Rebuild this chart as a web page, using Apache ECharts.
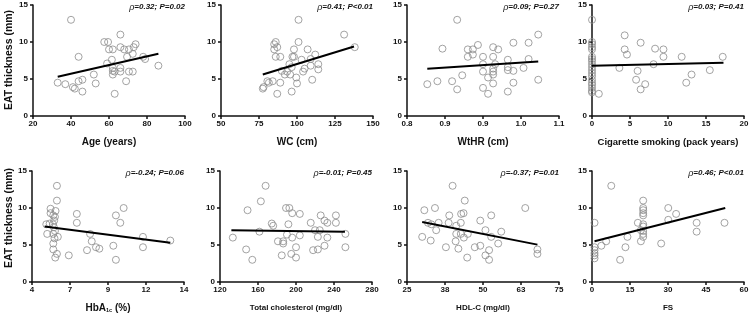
<!DOCTYPE html>
<html>
<head>
<meta charset="utf-8">
<script src="https://cdn.jsdelivr.net/npm/echarts@6/dist/echarts.min.js"></script>
<style>
  html, body { margin: 0; padding: 0; background: #fff; }
  #chart { width: 753px; height: 317px; }
</style>
</head>
<body>
<div id="chart"></div>
<script>
// EAT thickness (mm) against eight clinical variables
const ageX = [40, 66, 57.5, 59.5, 74, 66, 60, 62, 68, 70.5, 73, 72.5, 44, 69.5, 78, 79, 61.5, 59, 62, 62, 66, 63, 66, 70.5, 72.5, 62, 52, 86, 33, 37, 44, 46, 53, 69, 41, 42, 46, 63]
const ageY = [13, 11, 10, 10, 9.7, 9.3, 9, 9, 9, 9, 9.3, 8.4, 8, 8, 8, 7.7, 7.6, 7.1, 6.5, 6.1, 6.5, 6, 6, 6, 6, 5.6, 5.6, 6.8, 4.5, 4.3, 4.7, 4.9, 4.4, 4.7, 3.9, 3.7, 3.3, 3]
const ageFitX = [33, 86]
const ageFitY = [5.3, 8.4]
const ageTicks = ['20', '40', '60', '80', '100']

const wcX = [101, 131, 86, 85, 87, 85, 101, 98, 107, 138, 86, 89, 98, 97, 103, 112, 109, 114, 114, 95, 96.5, 105, 104, 109, 90, 93.5, 95.5, 92, 99.5, 84, 80.5, 81.5, 89, 100, 110, 77.5, 78, 96.5, 87]
const wcY = [13, 11, 10, 9.7, 9.3, 9, 10, 9, 9, 9.3, 8, 8, 8, 8, 7.6, 8.3, 7.7, 7, 6.3, 7, 6.6, 6.4, 6, 6.8, 6.1, 6, 5.6, 5.6, 5.2, 4.7, 4.7, 4.5, 4.5, 4.4, 4.9, 3.7, 3.9, 3.3, 3]
const wcFitX = [77.5, 137.5]
const wcFitY = [5.6, 9.4]
const wcTicks = ['50', '75', '100', '125', '150']

const whrX = [0.899, 1.059, 1.010, 1.040, 0.940, 0.870, 0.970, 0.980, 0.920, 0.930, 0.930, 0.920, 0.950, 0.970, 1.040, 0.999, 0.950, 0.974, 0.970, 0.970, 0.970, 0.999, 0.999, 1.010, 1.030, 0.950, 0.960, 0.909, 0.970, 1.010, 1.059, 0.840, 0.860, 0.889, 0.899, 0.950, 0.960, 0.999]
const whrY = [13, 11, 9.9, 9.9, 9.6, 9.1, 9.3, 9, 9, 9, 8.3, 8, 8, 8, 7.7, 7.6, 7, 7, 6.4, 6, 5.6, 6.6, 6.2, 6.1, 6.5, 6, 5.2, 5.5, 4.4, 4.5, 4.9, 4.3, 4.7, 4.7, 3.6, 3.8, 3, 3.3]
const whrFitX = [0.84, 1.059]
const whrFitY = [6.4, 7.35]
const whrTicks = ['0.8', '0.9', '0.9', '1.0', '1.1']

const smokeX = [0, 0, 0, 0, 0, 0, 0, 0, 0, 0, 0, 0, 0, 0, 0, 0, 0, 0, 0, 0.9, 4.3, 4.3, 4.6, 3.6, 6.4, 6.0, 5.8, 6.4, 7.0, 8.3, 9.4, 9.4, 8.1, 11.8, 13.1, 12.4, 15.5, 17.2]
const smokeY = [13, 10, 9.7, 9.3, 9, 8, 7.7, 7.4, 7, 6.6, 6.2, 5.8, 5.4, 4.9, 4.5, 4.2, 3.8, 3.4, 3.2, 3, 10.9, 9, 8.3, 6.5, 9.9, 6.1, 4.9, 3.6, 4.3, 9.1, 9, 8, 7, 8, 5.6, 4.5, 6.2, 8]
const smokeFitX = [0, 17.3]
const smokeFitY = [6.8, 7.2]
const smokeTicks = ['0', '5', '10', '15', '20']

const hbX = [5.64, 5.64, 5.22, 5.55, 5.22, 5.40, 5.51, 6.95, 6.95, 5.46, 4.94, 5.16, 5.38, 5.44, 5.51, 5.0, 5.4, 5.70, 5.48, 5.4, 5.4, 5.64, 5.53, 6.42, 7.82, 7.93, 8.21, 8.43, 7.62, 9.35, 9.52, 9.81, 10.03, 9.52, 11.3, 11.3, 13.1]
const hbY = [13, 11, 9.9, 9.6, 9.3, 9, 8.8, 9.2, 8, 8.3, 7.8, 7.9, 7.8, 7.4, 6.9, 6.5, 6.5, 6.1, 5.9, 5.2, 4.4, 3.8, 3.3, 3.6, 6.5, 5.5, 4.7, 4.5, 4.3, 4.9, 9, 8, 10, 3, 6.1, 4.7, 5.6]
const hbFitX = [4.83, 13.1]
const hbFitY = [7.5, 5.3]
const hbTicks = ['4', '7', '9', '12', '14']

const tcX = [168, 163, 149, 189.5, 193, 196, 204, 226, 242, 230, 233, 242, 215.5, 174.5, 176, 192, 220, 225, 161.5, 190.5, 204, 223, 233, 196, 252, 133.5, 181, 186.5, 186.5, 200, 230, 223, 218, 252, 147.5, 154, 185, 195, 200]
const tcY = [13, 10.9, 9.7, 10, 10, 9.3, 9.2, 9, 9, 8.3, 8, 8, 8, 7.9, 7.6, 7.8, 7, 7, 6.8, 6.4, 6.3, 6.1, 6, 6, 6.5, 6, 5.5, 5.5, 5.2, 4.7, 4.9, 4.4, 4.3, 4.7, 4.4, 3, 3.6, 3.8, 3.3]
const tcFitX = [132, 251.5]
const tcFitY = [7.0, 6.8]
const tcTicks = ['120', '160', '200', '240', '280']

const hdlX = [40, 44, 30.7, 34.2, 63.9, 38.9, 42.8, 43.6, 52.7, 49.1, 31.9, 33, 35.4, 38.7, 42.7, 41.2, 34.6, 50.8, 56, 41.2, 42.7, 45, 43.7, 52.7, 30, 32.8, 41, 55, 37.8, 41.9, 47.3, 49.1, 52, 50.8, 44.8, 52, 67.9, 67.9]
const hdlY = [13, 11, 9.7, 10, 10, 9, 9.2, 9.3, 9, 8.3, 8, 7.8, 8, 8, 8, 7.6, 7, 7, 6.8, 6.5, 6.5, 6.5, 6, 6.1, 6.1, 5.6, 5.5, 5.2, 4.7, 4.5, 4.7, 4.9, 4.3, 3.6, 3.3, 3, 4.4, 3.8]
const hdlFitX = [30, 67.9]
const hdlFitY = [8.1, 5.05]
const hdlTicks = ['25', '38', '50', '63', '75']

const fsX = [7.6, 1, 1, 1, 1, 1, 1, 3.7, 5.6, 11.1, 13.2, 14, 18.1, 19.3, 20.2, 20.2, 20.2, 20.2, 20.2, 20.2, 20.2, 20.2, 20.2, 20.2, 19.3, 27.3, 30.1, 30.1, 33.2, 41.3, 41.3, 52.3]
const fsY = [13, 8, 4.7, 4.3, 3.9, 3.6, 3.2, 4.9, 5.5, 3, 4.7, 6.1, 8, 5.5, 11, 10, 9.7, 9.3, 9, 7.8, 7.5, 6.9, 6.5, 6.1, 7, 5.2, 10, 8.4, 9.2, 8, 6.8, 8]
const fsFitX = [1, 52.6]
const fsFitY = [5.5, 10.0]
const fsTicks = ['0', '15', '30', '45', '60']

const eatTicks = ['0', '5', '10', '15']

const panels = [
  { x: ageX, y: ageY, fx: ageFitX, fy: ageFitY, ticks: ageTicks, min: 20, max: 100, step: 20, name: 'Age (years)', rho: '0.32', p: '=0.02' },
  { x: wcX, y: wcY, fx: wcFitX, fy: wcFitY, ticks: wcTicks, min: 50, max: 150, step: 25, name: 'WC (cm)', rho: '0.41', p: '<0.01' },
  { x: whrX, y: whrY, fx: whrFitX, fy: whrFitY, ticks: whrTicks, min: 0.8, max: 1.1, step: 0.075, name: 'WtHR (cm)', rho: '0.09', p: '=0.27' },
  { x: smokeX, y: smokeY, fx: smokeFitX, fy: smokeFitY, ticks: smokeTicks, min: 0, max: 20, step: 5, name: 'Cigarette smoking (pack years)', rho: '0.03', p: '=0.41' },
  { x: hbX, y: hbY, fx: hbFitX, fy: hbFitY, ticks: hbTicks, min: 4, max: 14, step: 2.5, name: 'HbA{s|1c} (%)', rho: '-0.24', p: '=0.06' },
  { x: tcX, y: tcY, fx: tcFitX, fy: tcFitY, ticks: tcTicks, min: 120, max: 280, step: 40, name: 'Total cholesterol (mg/dl)', rho: '-0.01', p: '=0.45', small: true },
  { x: hdlX, y: hdlY, fx: hdlFitX, fy: hdlFitY, ticks: hdlTicks, min: 25, max: 75, step: 12.5, name: 'HDL-C (mg/dl)', rho: '-0.37', p: '=0.01', small: true },
  { x: fsX, y: fsY, fx: fsFitX, fy: fsFitY, ticks: fsTicks, min: 0, max: 60, step: 15, name: 'FS', rho: '0.46', p: '<0.01', small: true }
]

const font = 'Liberation Sans, Arial, sans-serif'
const lefts = [[33, 221, 407, 592], [32, 220, 407, 592]]
const tops = [5, 171]
const gw = 152
const gh = 111

const grid = []
const xAxis = []
const yAxis = []
const series = []
const graphic = []

panels.forEach((p, i) => {
  const row = Math.floor(i / 4)
  const col = i % 4
  const left = lefts[row][col]
  const top = tops[row]
  grid.push({ left: left, top: top, width: gw, height: gh })
  const axisLine = { lineStyle: { color: '#111', width: 1.5 } }
  const axisTick = { length: 3, lineStyle: { color: '#111', width: 1.5 } }
  xAxis.push({
    gridIndex: i,
    type: 'value',
    min: p.min,
    max: p.max,
    interval: p.step,
    axisLine: axisLine,
    axisTick: axisTick,
    splitLine: { show: false },
    axisLabel: {
      margin: 4,
      color: '#111',
      fontFamily: font,
      fontSize: 8,
      fontWeight: 'bold',
      formatter: v => p.ticks[Math.round((v - p.min) / p.step)]
    }
  })
  yAxis.push({
    gridIndex: i,
    type: 'value',
    min: 0,
    max: 15,
    interval: 5,
    axisLine: axisLine,
    axisTick: axisTick,
    splitLine: { show: false },
    axisLabel: {
      margin: 5,
      color: '#111',
      fontFamily: font,
      fontSize: 8,
      fontWeight: 'bold',
      formatter: v => eatTicks[Math.round(v / 5)]
    }
  })
  series.push({
    type: 'scatter',
    xAxisIndex: i,
    yAxisIndex: i,
    symbol: 'circle',
    symbolSize: 7,
    itemStyle: { color: 'rgba(255,255,255,0)', borderColor: '#8c8c8c', borderWidth: 1 },
    data: p.x.map((v, k) => [v, p.y[k]])
  })
  series.push({
    type: 'line',
    xAxisIndex: i,
    yAxisIndex: i,
    symbol: 'none',
    lineStyle: { color: '#000', width: 2 },
    data: p.fx.map((v, k) => [v, p.fy[k]]),
    z: 3
  })
  // x axis title
  const big = !p.small
  graphic.push({
    type: 'text',
    x: left + gw / 2,
    y: row === 0 ? 142 : 308,
    style: {
      text: p.name,
      x: 0,
      y: 0,
      align: 'center',
      verticalAlign: 'middle',
      fill: '#111',
      font: 'bold ' + (big ? (col === 3 ? 9.5 : 10) : 8) + 'px ' + font,
      rich: {
        s: { fontSize: 5.5, fontWeight: 'bold', fontFamily: font, fill: '#111', padding: [5, 0, 0, 0] }
      }
    }
  })
  // correlation note
  graphic.push({
    type: 'text',
    x: left + gw,
    y: top + 2,
    style: {
      text: '{r|ρ}{b|=' + p.rho + '; }{b|P}{b|' + p.p + '}',
      x: 0,
      y: 0,
      align: 'right',
      verticalAlign: 'middle',
      rich: {
        r: { fontFamily: font, fontSize: 9, fontStyle: 'italic', fill: '#111' },
        b: { fontFamily: font, fontSize: 8, fontStyle: 'italic', fontWeight: 'bold', fill: '#111' }
      }
    }
  })
})

// shared y axis titles
;[60, 218].forEach(cy => {
  graphic.push({
    type: 'text',
    x: 9,
    y: cy,
    rotation: Math.PI / 2,
    style: {
      text: 'EAT thickness (mm)',
      align: 'center',
      verticalAlign: 'middle',
      fill: '#111',
      font: 'bold 10.5px ' + font
    }
  })
})

const myChart = echarts.init(document.getElementById('chart'), null, { renderer: 'canvas' })
myChart.setOption({
  animation: false,
  backgroundColor: '#fff',
  grid: grid,
  xAxis: xAxis,
  yAxis: yAxis,
  series: series,
  graphic: graphic
})
</script>
</body>
</html>
